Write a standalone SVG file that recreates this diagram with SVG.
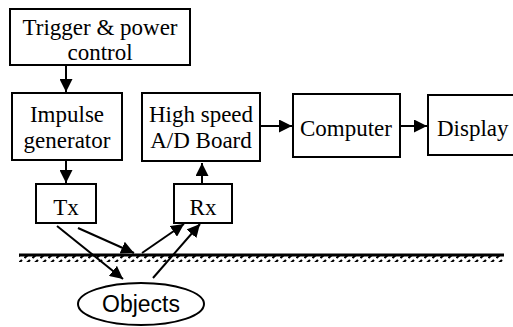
<svg xmlns="http://www.w3.org/2000/svg" width="513" height="327" viewBox="0 0 513 327">
<defs>
<style>
.box{fill:#fff;stroke:#000;stroke-width:2}
.t{font-family:"Liberation Serif","Times New Roman",serif;font-size:23px;fill:#000;text-anchor:middle}
.s{font-family:"Liberation Sans",Arial,sans-serif;font-size:23px;fill:#000;text-anchor:middle}
.c{stroke:#000;stroke-width:2;fill:none}
</style>
<marker id="ah" viewBox="0 0 10 10" refX="10" refY="5" markerWidth="6.5" markerHeight="6.5" markerUnits="strokeWidth" orient="auto">
<path d="M0,0 L10,5 L0,10 Z" fill="#000"/>
</marker>
<pattern id="hatch" x="0" y="0" width="8" height="7" patternUnits="userSpaceOnUse">
<path d="M0.5,6 L6,1" stroke="#000" stroke-width="2.2"/>
</pattern>
</defs>
<rect width="513" height="327" fill="#fff"/>
<g id="ground">
<line x1="19" y1="255" x2="504" y2="255" stroke="#000" stroke-width="3"/>
<rect x="19" y="256" width="485" height="6" fill="url(#hatch)"/>
</g>
<g id="connectors">
<line class="c" x1="66" y1="65" x2="66" y2="92" marker-end="url(#ah)"/>
<line class="c" x1="66" y1="160" x2="66" y2="183" marker-end="url(#ah)"/>
<line class="c" x1="202" y1="184" x2="202" y2="163" marker-end="url(#ah)"/>
<line class="c" x1="260" y1="126" x2="292" y2="126" marker-end="url(#ah)"/>
<line class="c" x1="400" y1="126" x2="427" y2="126" marker-end="url(#ah)"/>
<line class="c" x1="57" y1="226" x2="123" y2="279" marker-end="url(#ah)"/>
<line class="c" x1="78" y1="228" x2="134" y2="253" marker-end="url(#ah)"/>
<line class="c" x1="142" y1="253" x2="184" y2="224" marker-end="url(#ah)"/>
<line class="c" x1="153" y1="278" x2="200" y2="224" marker-end="url(#ah)"/>
</g>
<g id="trigger">
<rect class="box" x="10" y="9" width="180" height="56"/>
<text class="t" x="100" y="35">Trigger &amp; power</text>
<text class="t" x="100" y="60">control</text>
</g>
<g id="impulse">
<rect class="box" x="12" y="93" width="110" height="67"/>
<text class="t" x="67" y="122">Impulse</text>
<text class="t" x="67" y="148">generator</text>
</g>
<g id="adboard">
<rect class="box" x="142" y="93" width="118" height="68"/>
<text class="t" x="201" y="122">High speed</text>
<text class="t" x="201" y="148">A/D Board</text>
</g>
<g id="computer">
<rect class="box" x="293" y="94" width="107" height="63"/>
<text class="t" x="346" y="136">Computer</text>
</g>
<g id="display">
<rect class="box" x="428" y="95" width="90" height="60"/>
<text class="t" x="437" y="136" style="text-anchor:start">Display</text>
</g>
<g id="tx">
<rect class="box" x="36" y="184" width="60" height="39"/>
<text class="t" x="66" y="215">Tx</text>
</g>
<g id="rx">
<rect class="box" x="174" y="184" width="58" height="39"/>
<text class="t" x="203" y="215">Rx</text>
</g>
<g id="objects">
<ellipse cx="141" cy="304" rx="63" ry="21" fill="#fff" stroke="#000" stroke-width="2"/>
<text class="s" x="141" y="312">Objects</text>
</g>
</svg>
